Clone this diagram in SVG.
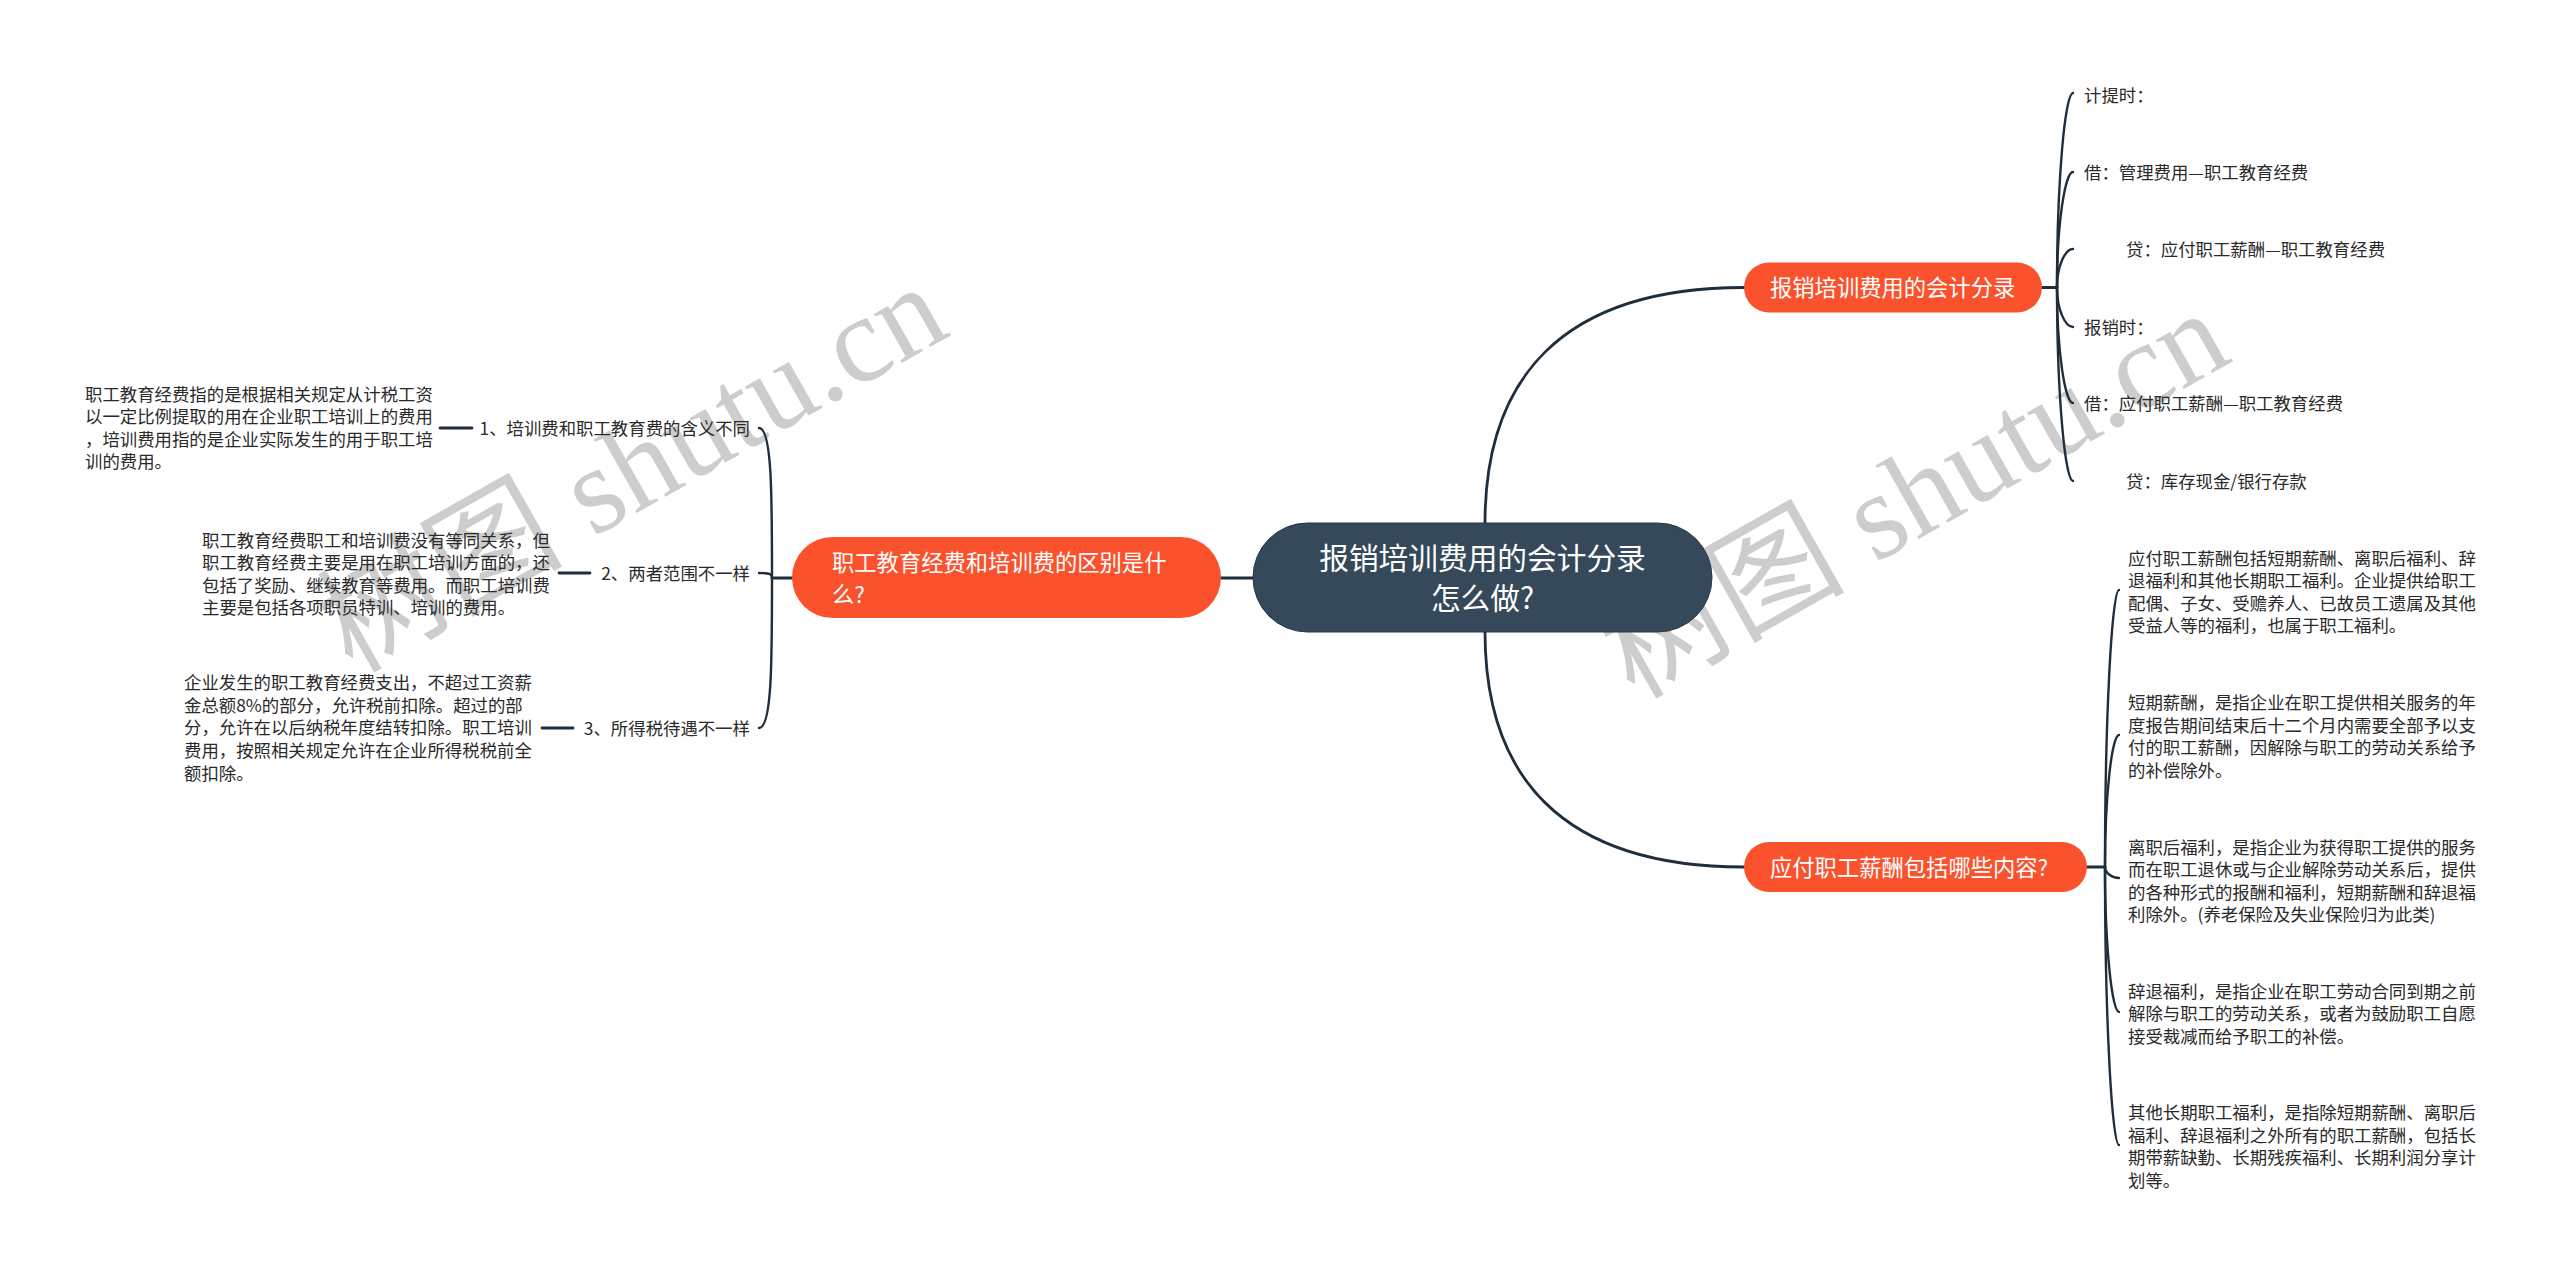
<svg xmlns="http://www.w3.org/2000/svg" width="2560" height="1274" viewBox="0 0 2560 1274">
<style>
.bg{fill:#ffffff}
.wm{font-family:"Liberation Serif","Noto Sans CJK SC",serif;font-size:123px;fill:#cdcdcd}
.t{font-family:"Noto Sans CJK SC","Noto Sans CJK TC",sans-serif;font-size:17.4px;fill:#2a2a2a}
.ot{font-family:"Noto Sans CJK SC","Noto Sans CJK TC",sans-serif;font-size:22.3px;fill:#ffffff}
.ct{font-family:"Noto Sans CJK SC","Noto Sans CJK TC",sans-serif;font-size:29.7px;fill:#ffffff;text-anchor:middle}
.orange{fill:#fa522d}
.root{fill:#35495a;stroke:#26364a;stroke-width:1}
.ln{fill:none;stroke:#1f2e3c;stroke-width:2.8;stroke-linecap:round}
.br{fill:none;stroke:#1f2e3c;stroke-width:2.4;stroke-linecap:round}
</style>
<rect class="bg" x="0" y="0" width="2560" height="1274"/>
<g id="watermarks">
<text class="wm" x="352" y="674" transform="rotate(-29.5 352 674)">树图 shutu.cn</text>
<text class="wm" x="1634" y="700" transform="rotate(-29.5 1634 700)">树图 shutu.cn</text>
</g>
<g id="connectors">
<path class="ln" d="M1253 578 L1221 578"/>
<path class="ln" d="M1485 523 C1485 380 1560 287.5 1744 287.5"/>
<path class="ln" d="M1485 632 C1485 775 1560 867 1744 867"/>
<path class="ln" d="M792 578 L772 578"/>
<path class="br" d="M772 578 C772 495.5 772 428 759 428"/>
<path class="br" d="M772 578 C772 575 772 573 759 573"/>
<path class="br" d="M772 578 C772 660.5 772 728 759 728"/>
<path class="ln" d="M440 428 L472 428"/>
<path class="ln" d="M559 573 L590 573"/>
<path class="ln" d="M542 728 L573 728"/>
<path class="ln" d="M2042 287.5 L2057 287.5"/>
<path class="br" d="M2057 287.5 C2057 180.5 2065 93 2073 93"/>
<path class="br" d="M2057 287.5 C2057 224 2065 172 2073 172"/>
<path class="br" d="M2057 287.5 C2057 266.3 2065 249 2073 249"/>
<path class="br" d="M2057 287.5 C2057 309.2 2065 327 2073 327"/>
<path class="br" d="M2057 287.5 C2057 351 2065 403 2073 403"/>
<path class="br" d="M2057 287.5 C2057 393.9 2065 481 2073 481"/>
<path class="ln" d="M2087 867 L2105 867"/>
<path class="br" d="M2105 867 C2105 714.7 2112 590 2119 590"/>
<path class="br" d="M2105 867 C2105 794.4 2112 735 2119 735"/>
<path class="br" d="M2105 867 C2105 873 2112 878 2119 878"/>
<path class="br" d="M2105 867 C2105 946.8 2112 1012 2119 1012"/>
<path class="br" d="M2105 867 C2105 1019.9 2112 1145 2119 1145"/>
</g>
<g id="root">
<rect class="root" x="1253" y="523" width="459" height="109" rx="54.5"/>
<text class="ct" x="1482.5" y="568.8">报销培训费用的会计分录</text>
<text class="ct" x="1482.5" y="608.8">怎么做?</text>
</g>
<g id="branch-left">
<rect class="orange" x="792" y="537" width="429" height="81" rx="40.5"/>
<text class="ot" x="832" y="570.5">职工教育经费和培训费的区别是什</text>
<text class="ot" x="832" y="602.5">么?</text>
</g>
<g id="branch-top">
<rect class="orange" x="1744" y="262.5" width="298" height="50" rx="25"/>
<text class="ot" x="1770" y="296">报销培训费用的会计分录</text>
</g>
<g id="branch-bottom">
<rect class="orange" x="1744" y="842" width="343" height="50" rx="25"/>
<text class="ot" x="1770" y="875.5">应付职工薪酬包括哪些内容?</text>
</g>
<g id="label-1"><text class="t" x="750" y="434.6" text-anchor="end">1、培训费和职工教育费的含义不同</text></g>
<g id="label-2"><text class="t" x="750" y="579.6" text-anchor="end">2、两者范围不一样</text></g>
<g id="label-3"><text class="t" x="750" y="734.6" text-anchor="end">3、所得税待遇不一样</text></g>
<g id="detail-1">
<text class="t" x="85" y="400.6">职工教育经费指的是根据相关规定从计税工资</text>
<text class="t" x="85" y="423.2">以一定比例提取的用在企业职工培训上的费用</text>
<text class="t" x="85" y="445.8">，培训费用指的是企业实际发生的用于职工培</text>
<text class="t" x="85" y="468.4">训的费用。</text>
</g>
<g id="detail-2">
<text class="t" x="202" y="546.6">职工教育经费职工和培训费没有等同关系，但</text>
<text class="t" x="202" y="569.2">职工教育经费主要是用在职工培训方面的，还</text>
<text class="t" x="202" y="591.8">包括了奖励、继续教育等费用。而职工培训费</text>
<text class="t" x="202" y="614.4">主要是包括各项职员特训、培训的费用。</text>
</g>
<g id="detail-3">
<text class="t" x="184" y="689.1">企业发生的职工教育经费支出，不超过工资薪</text>
<text class="t" x="184" y="711.7">金总额8%的部分，允许税前扣除。超过的部</text>
<text class="t" x="184" y="734.3">分，允许在以后纳税年度结转扣除。职工培训</text>
<text class="t" x="184" y="756.9">费用，按照相关规定允许在企业所得税税前全</text>
<text class="t" x="184" y="779.5">额扣除。</text>
</g>
<g id="entry-1"><text class="t" x="2084" y="101.6">计提时：</text></g>
<g id="entry-2"><text class="t" x="2084" y="178.6">借：管理费用—职工教育经费</text></g>
<g id="entry-3"><text class="t" x="2126" y="255.6">贷：应付职工薪酬—职工教育经费</text></g>
<g id="entry-4"><text class="t" x="2084" y="333.6">报销时：</text></g>
<g id="entry-5"><text class="t" x="2084" y="409.6">借：应付职工薪酬—职工教育经费</text></g>
<g id="entry-6"><text class="t" x="2126" y="487.6">贷：库存现金/银行存款</text></g>
<g id="pay-a">
<text class="t" x="2128" y="564.6">应付职工薪酬包括短期薪酬、离职后福利、辞</text>
<text class="t" x="2128" y="587.2">退福利和其他长期职工福利。企业提供给职工</text>
<text class="t" x="2128" y="609.8">配偶、子女、受赡养人、已故员工遗属及其他</text>
<text class="t" x="2128" y="632.4">受益人等的福利，也属于职工福利。</text>
</g>
<g id="pay-b">
<text class="t" x="2128" y="709.1">短期薪酬，是指企业在职工提供相关服务的年</text>
<text class="t" x="2128" y="731.7">度报告期间结束后十二个月内需要全部予以支</text>
<text class="t" x="2128" y="754.3">付的职工薪酬，因解除与职工的劳动关系给予</text>
<text class="t" x="2128" y="776.9">的补偿除外。</text>
</g>
<g id="pay-c">
<text class="t" x="2128" y="853.6">离职后福利，是指企业为获得职工提供的服务</text>
<text class="t" x="2128" y="876.2">而在职工退休或与企业解除劳动关系后，提供</text>
<text class="t" x="2128" y="898.8">的各种形式的报酬和福利，短期薪酬和辞退福</text>
<text class="t" x="2128" y="921.4">利除外。(养老保险及失业保险归为此类)</text>
</g>
<g id="pay-d">
<text class="t" x="2128" y="997.6">辞退福利，是指企业在职工劳动合同到期之前</text>
<text class="t" x="2128" y="1020.2">解除与职工的劳动关系，或者为鼓励职工自愿</text>
<text class="t" x="2128" y="1042.8">接受裁减而给予职工的补偿。</text>
</g>
<g id="pay-e">
<text class="t" x="2128" y="1119.1">其他长期职工福利，是指除短期薪酬、离职后</text>
<text class="t" x="2128" y="1141.7">福利、辞退福利之外所有的职工薪酬，包括长</text>
<text class="t" x="2128" y="1164.3">期带薪缺勤、长期残疾福利、长期利润分享计</text>
<text class="t" x="2128" y="1186.9">划等。</text>
</g>
</svg>
